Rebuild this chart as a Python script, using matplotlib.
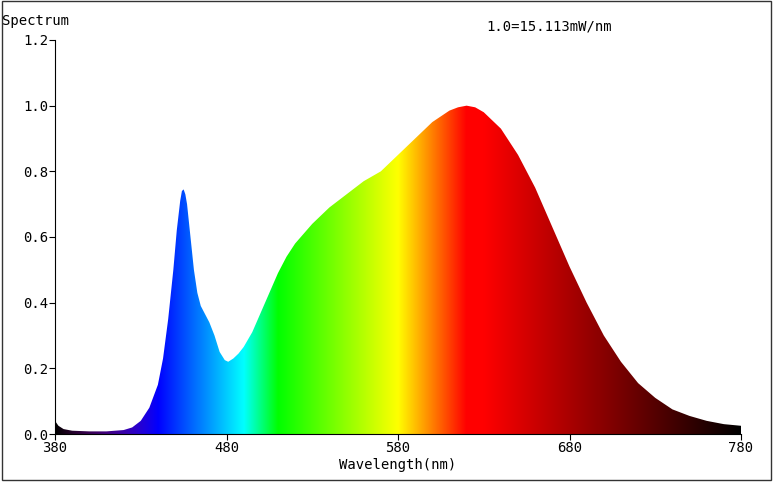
import numpy as np
import matplotlib
matplotlib.use("Agg")
import matplotlib.pyplot as plt
from matplotlib.patches import Rectangle

wavelength = [380, 382, 385, 390, 400, 410, 420, 425, 430, 435, 440, 443, 446, 449, 451, 453, 454, 455, 456, 457, 459, 461, 463, 465, 467, 470, 473, 476, 479, 481, 484, 487, 490, 495, 500, 505, 510, 515, 520, 530, 540, 550, 560, 570, 580, 590, 600, 610, 615, 620, 625, 630, 640, 650, 660, 670, 680, 690, 700, 710, 720, 730, 740, 750, 760, 770, 780]
intensity  = [0.04, 0.025, 0.015, 0.01, 0.008, 0.008, 0.012, 0.02, 0.04, 0.08, 0.15, 0.23, 0.35, 0.5, 0.62, 0.71, 0.74, 0.745, 0.73, 0.7, 0.6, 0.5, 0.43, 0.39, 0.37, 0.34, 0.30, 0.25, 0.225, 0.22, 0.23, 0.245, 0.265, 0.31, 0.37, 0.43, 0.49, 0.54, 0.58, 0.64, 0.69, 0.73, 0.77, 0.80, 0.85, 0.90, 0.95, 0.985, 0.995, 1.0, 0.995, 0.98, 0.93, 0.85, 0.75, 0.63, 0.51, 0.40, 0.30, 0.22, 0.155, 0.11, 0.075, 0.055, 0.04, 0.03, 0.025]
x_ticks = [380, 480, 580, 680, 780]
y_ticks = [0.0, 0.2, 0.4, 0.6, 0.8, 1.0, 1.2]

def wl_rgb(w):
    if w < 440: r, g, b = -(w-440)/60, 0, 1
    elif w < 490: r, g, b = 0, (w-440)/50, 1
    elif w < 510: r, g, b = 0, 1, -(w-510)/20
    elif w < 580: r, g, b = (w-510)/70, 1, 0
    elif w < 620: r, g, b = 1, -(w-620)/40, 0
    else: r, g, b = 1, 0, 0
    if w < 440: f = (w-380)/60
    elif w > 630: f = max(0, (780-w)/150)
    else: f = 1
    return [r*f, g*f, b*f]

plt.rcParams['font.family'] = ['DejaVu Sans Mono']
fig = plt.figure(figsize=(7.76, 4.84), dpi=100)
ax = fig.add_axes([55/776, 1-434/484, 686/776, 394/484])
ws = np.linspace(380, 780, 800)
img = np.array([[wl_rgb(w) for w in ws]])
im = ax.imshow(img, extent=[380, 780, 0, 1.2], aspect='auto', zorder=1)
poly = ax.fill_between(wavelength, intensity, 0, facecolor='none', edgecolor='none')
path = poly.get_paths()[0]
im.set_clip_path(path, transform=ax.transData)
ax.set_xlim(380, 780); ax.set_ylim(0, 1.2)
ax.set_xticks(x_ticks); ax.set_yticks(y_ticks)
ax.set_yticklabels([f"{v:.1f}" for v in y_ticks], fontsize=10)
ax.set_xticklabels([str(v) for v in x_ticks], fontsize=10)
for s in ['top', 'right']: ax.spines[s].set_visible(False)
ax.tick_params(length=4, pad=1)
ax.set_xlabel('Wavelength(nm)', fontsize=10, labelpad=2)
fig.text(2/776, 1-21/484, 'Spectrum', fontsize=10, va='center')
fig.text(486/776, 1-27/484, '1.0=15.113mW/nm', fontsize=10, va='center')
fig.patches.append(Rectangle((2/776, 4/484), 769/776, 479/484, transform=fig.transFigure, fill=False, edgecolor='#333333', lw=1))
fig.savefig('out.png', dpi=100)
